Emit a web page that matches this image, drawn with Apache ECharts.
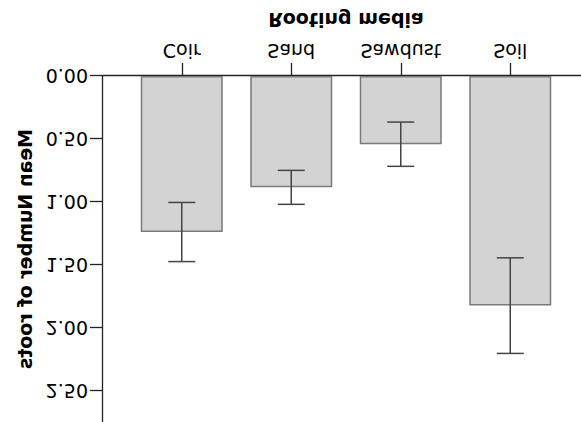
<!DOCTYPE html>
<html>
<head>
<meta charset="utf-8">
<script src="https://cdn.jsdelivr.net/npm/echarts@6/dist/echarts.min.js"></script>
<style>
html,body{margin:0;padding:0;background:#fff;}
#c{width:581px;height:422px;transform:scaleY(-1);transform-origin:50% 50%;}
</style>
</head>
<body>
<div id="c"></div>
<script>
// Data (chart is displayed mirrored upside-down, as in the reference)
var categories = ['Coir', 'Sand', 'Sawdust', 'Soil'];
var meanRoots = [1.24, 0.885, 0.542, 1.825];
var errRoots = [0.235, 0.135, 0.176, 0.38];
var yTicks = [0, 0.5, 1.0, 1.5, 2.0, 2.5];

var FONT = 'DejaVu Sans';
var yMax = 2.75;

var errData = meanRoots.map(function (m, i) { return [i, m - errRoots[i], m + errRoots[i]]; });

var chart = echarts.init(document.getElementById('c'), null, { renderer: 'svg' });
chart.setOption({
  animation: false,
  backgroundColor: '#fff',
  grid: [
    { left: 102, right: 0, top: 0, bottom: 76 },
    { left: 127, right: 16, top: 0, bottom: 76 }
  ],
  xAxis: [
    { gridIndex: 0, type: 'value', min: 0, max: 1,
      axisLine: { show: true, lineStyle: { color: '#222', width: 1.3 } },
      axisTick: { show: false }, axisLabel: { show: false }, splitLine: { show: false } },
    { gridIndex: 1, type: 'category', data: categories,
      axisLine: { show: false },
      axisTick: { show: true, alignWithLabel: true, length: 13, lineStyle: { color: '#222', width: 1.3 } },
      axisLabel: { fontFamily: FONT, fontSize: 19, color: '#000', margin: 16 },
      name: 'Rooting media', nameLocation: 'middle', nameGap: 47,
      nameTextStyle: { fontFamily: FONT, fontSize: 19, fontWeight: 'bold', color: '#000' } }
  ],
  yAxis: [
    { gridIndex: 0, type: 'value', min: 0, max: yMax, interval: 0.5,
      axisLine: { show: true, lineStyle: { color: '#222', width: 1.3 } },
      axisTick: { show: true, length: 12, lineStyle: { color: '#222', width: 1.3 } },
      axisLabel: { fontFamily: FONT, fontSize: 19, color: '#000', margin: 14, showMaxLabel: false,
        formatter: function (v) { return yTicks.indexOf(v) >= 0 ? v.toFixed(2) : ''; } },
      splitLine: { show: false },
      name: 'Mean Number of roots', nameLocation: 'middle', nameGap: 63,
      nameTextStyle: { fontFamily: FONT, fontSize: 19, fontWeight: 'bold', color: '#000' } },
    { gridIndex: 1, type: 'value', min: 0, max: yMax, show: false }
  ],
  series: [
    { type: 'bar', xAxisIndex: 1, yAxisIndex: 1, data: meanRoots, barWidth: 82, z: 2,
      itemStyle: { color: '#d3d3d3', borderColor: '#7a7a7a', borderWidth: 1.5 } },
    { type: 'custom', xAxisIndex: 1, yAxisIndex: 1, data: errData, z: 5,
      renderItem: function (params, api) {
        var lo = api.coord([api.value(0), api.value(1)]);
        var hi = api.coord([api.value(0), api.value(2)]);
        var hw = 13.5;
        var st = { stroke: '#444', lineWidth: 1.5 };
        return { type: 'group', children: [
          { type: 'line', shape: { x1: lo[0], y1: lo[1], x2: hi[0], y2: hi[1] }, style: st },
          { type: 'line', shape: { x1: lo[0] - hw, y1: lo[1], x2: lo[0] + hw, y2: lo[1] }, style: st },
          { type: 'line', shape: { x1: hi[0] - hw, y1: hi[1], x2: hi[0] + hw, y2: hi[1] }, style: st }
        ] };
      } }
  ]
});
</script>
</body>
</html>
